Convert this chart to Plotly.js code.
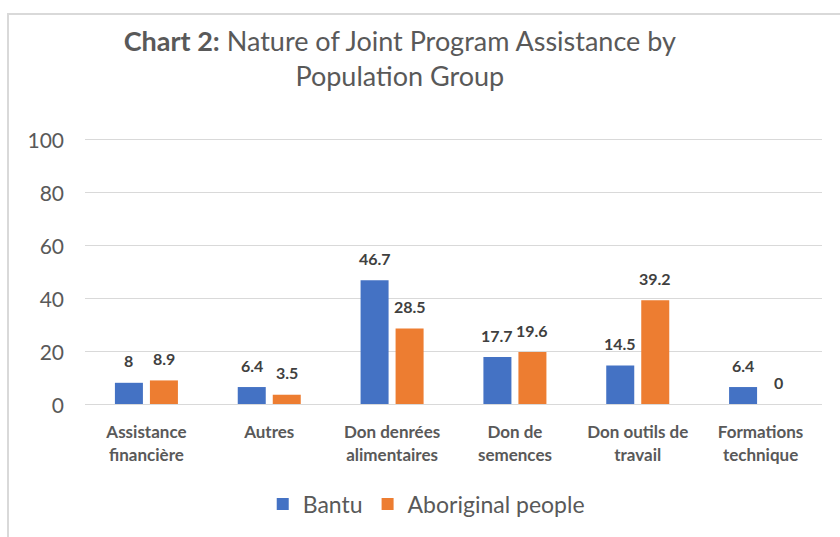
<!DOCTYPE html>
<html>
<head>
<meta charset="utf-8">
<script src="https://cdn.plot.ly/plotly-3.0.1.min.js"></script>
<style>
  html, body { margin: 0; padding: 0; background: #fff; }
  #wrap { position: relative; width: 840px; height: 537px; }
  #chart { width: 840px; height: 537px; }
  #frame { position: absolute; left: 7px; top: 13px; width: 840px; height: 540px;
           border-left: 2px solid #d9d9d9; border-top: 2px solid #d9d9d9; pointer-events: none; }
</style>
</head>
<body>
<div id="wrap">
  <div id="chart"></div>
  <div id="frame"></div>
</div>
<script>
const categories = ["Assistance<br>financière", "Autres", "Don denrées<br>alimentaires", "Don de<br>semences", "Don outils de<br>travail", "Formations<br>technique"];
const bantu = [8, 6.4, 46.7, 17.7, 14.5, 6.4];
const aboriginal = [8.9, 3.5, 28.5, 19.6, 39.2, 0];
const seriesNames = ["Bantu", "Aboriginal people"];
const yTicks = [0, 20, 40, 60, 80, 100];

const FONT = "Lato, 'Open Sans', sans-serif";
const BLUE = "#4472C4", ORANGE = "#ED7D31";

const traces = [
  { type: "bar", name: seriesNames[0], x: categories, y: bantu, marker: { color: BLUE }, hoverinfo: "skip" },
  { type: "bar", name: seriesNames[1], x: categories, y: aboriginal, marker: { color: ORANGE }, hoverinfo: "skip" }
];

const annotations = [];
[bantu, aboriginal].forEach((vals, si) => {
  vals.forEach((v, i) => {
    annotations.push({
      x: categories[i], y: v, xref: "x", yref: "y",
      text: "<b>" + v + "</b>", showarrow: false,
      xshift: si === 0 ? -17.5 : 17.5, yshift: 22,
      yanchor: "middle", xanchor: "center",
      font: { family: FONT, size: 16, color: "#404040" }
    });
  });
});

const layout = {
  width: 840, height: 537,
  margin: { l: 85, r: 18, t: 138, b: 128 },
  paper_bgcolor: "#fff", plot_bgcolor: "#fff",
  barmode: "group", bargap: 0.43, bargroupgap: 0.2,
  title: {
    text: "<b>Chart 2:</b> Nature of Joint Program Assistance by<br>Population Group",
    x: 0.476, xref: "container", xanchor: "center",
    y: 0.905, yref: "container", yanchor: "top",
    font: { family: FONT, size: 27, color: "#595959" }
  },
  xaxis: {
    type: "category",
    tickfont: { family: FONT, size: 17, color: "#595959", weight: "bold" },
    showgrid: false, zeroline: false, showline: true, linecolor: "#d9d9d9", linewidth: 1,
    ticks: "", ticklabelstandoff: 13, fixedrange: true
  },
  yaxis: {
    range: [0, 100.4], tickvals: yTicks, ticktext: yTicks.map(String),
    tickfont: { family: FONT, size: 21, color: "#595959" },
    showgrid: true, gridcolor: "#d9d9d9", gridwidth: 1, zeroline: false,
    showline: false, ticks: "", ticklabelstandoff: 20, ticklabelshift: 2, fixedrange: true
  },
  showlegend: true,
  legend: {
    orientation: "h", x: 0.463, xanchor: "center", y: -0.376, yanchor: "middle",
    font: { family: FONT, size: 23, color: "#595959" },
    itemwidth: 30, tracegroupgap: 0
  },
  annotations: annotations
};

Plotly.newPlot("chart", traces, layout, { displayModeBar: false, staticPlot: true });
</script>
</body>
</html>
